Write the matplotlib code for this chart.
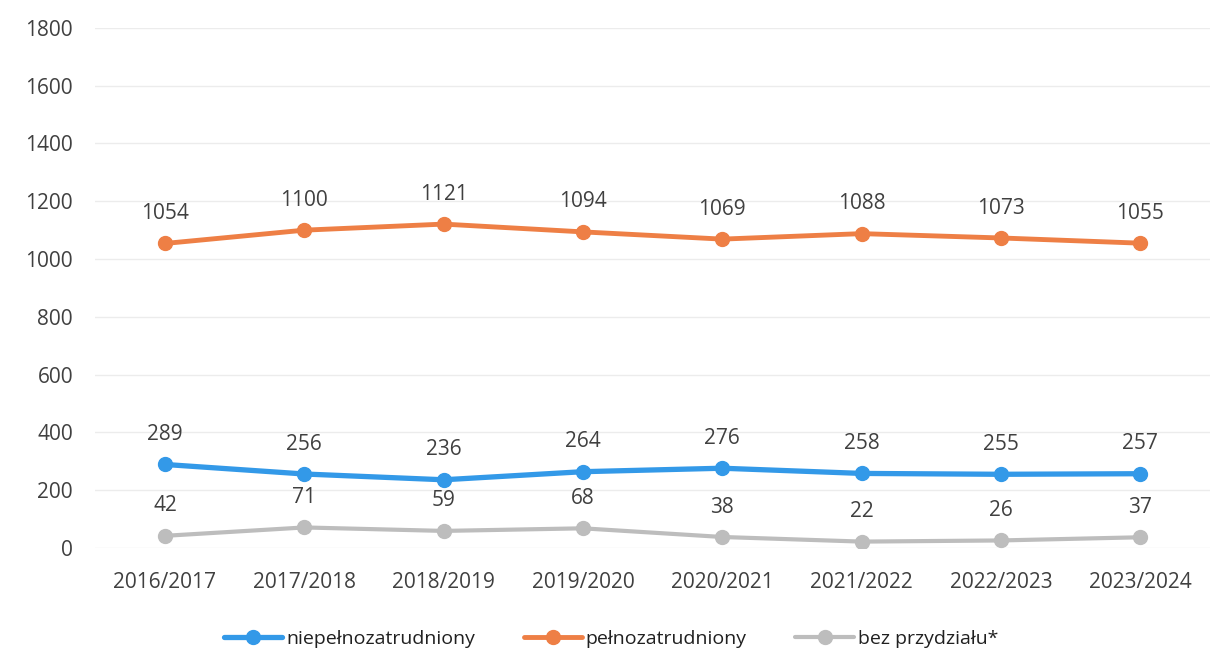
import matplotlib
matplotlib.use("Agg")
import matplotlib.pyplot as plt

years = ["2016/2017", "2017/2018", "2018/2019", "2019/2020", "2020/2021", "2021/2022", "2022/2023", "2023/2024"]
niepelno = [289, 256, 236, 264, 276, 258, 255, 257]
pelno = [1054, 1100, 1121, 1094, 1069, 1088, 1073, 1055]
bez = [42, 71, 59, 68, 38, 22, 26, 37]
yticks = [0, 200, 400, 600, 800, 1000, 1200, 1400, 1600, 1800]

plt.rcParams['font.family'] = ['Open Sans', 'DejaVu Sans']

fig = plt.figure(figsize=(12.22, 6.65), dpi=100)
ax = fig.add_axes([0.078, 0.176, 0.912, 0.782])

x = list(range(len(years)))
series = [
    (niepelno, "#3399e8", "niepełnozatrudniony", 3.8),
    (pelno, "#ee7f45", "pełnozatrudniony", 3.5),
    (bez, "#bdbdbd", "bez przydziału*", 3.0),
]
for vals, col, lab, lw in series:
    ax.plot(x, vals, color=col, lw=lw, marker="o", ms=10, label=lab,
            solid_capstyle="round", zorder=3)
    for xi, v in zip(x, vals):
        ax.annotate(str(v), (xi, v), xytext=(0, 14), textcoords="offset points",
                    ha="center", va="bottom", fontsize=15, color="#404040")

ax.set_xlim(-0.5, len(years) - 0.5)
ax.set_ylim(0, 1800)
ax.set_yticks(yticks)
ax.set_xticks(x)
ax.set_xticklabels(years)
ax.grid(axis="y", color="#ececec", lw=1)
ax.set_axisbelow(True)
for s in ax.spines.values():
    s.set_visible(False)
ax.tick_params(length=0, labelsize=15, labelcolor="#404040")
ax.tick_params(axis="x", pad=17)
ax.tick_params(axis="y", pad=16)

fig.legend(loc="lower center", bbox_to_anchor=(0.5, 0.0), ncol=3, frameon=False,
           fontsize=14, handlelength=3, columnspacing=2.5, handletextpad=0.2,
           labelcolor="#202020")

fig.savefig("out.png", dpi=100, facecolor="white")
